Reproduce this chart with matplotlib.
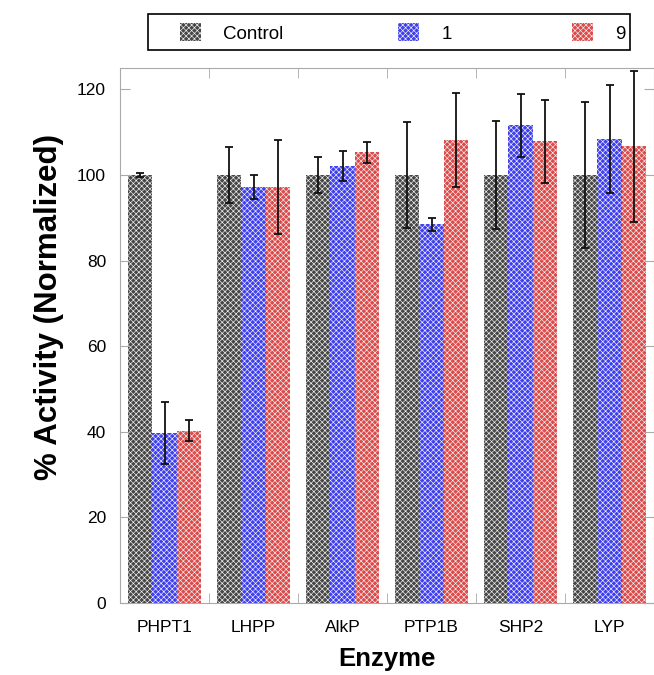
import matplotlib.pyplot as plt
import numpy as np
from matplotlib.patches import Patch, Rectangle

enzymes = ['PHPT1', 'LHPP', 'AlkP', 'PTP1B', 'SHP2', 'LYP']
series = ['Control', '1', '9']
control = [100, 100, 100, 100, 100, 100]
control_err = [0.5, 6.5, 4.2, 12.4, 12.6, 17.1]
cmpd_1 = [39.7, 97.3, 102.0, 88.5, 111.6, 108.4]
cmpd_1_err = [7.2, 2.8, 3.5, 1.5, 7.3, 12.6]
cmpd_9 = [40.3, 97.2, 105.3, 108.1, 107.9, 106.7]
cmpd_9_err = [2.5, 11.0, 2.5, 11.0, 9.7, 17.6]

faces = ['#464646', '#3f3ff0', '#dc4a4a']
hatch_col = '#f4f4f4'

plt.rcParams['font.family'] = ['Liberation Sans', 'DejaVu Sans']
plt.rcParams['hatch.linewidth'] = 0.45

fig = plt.figure(figsize=(6.54, 6.75), dpi=100)
ax = fig.add_axes([120 / 654, 72 / 675, 534 / 654, 535 / 675])

x = np.arange(len(enzymes)) + 0.5
w = 0.27
data = [(control, control_err), (cmpd_1, cmpd_1_err), (cmpd_9, cmpd_9_err)]
for i, (vals, errs) in enumerate(data):
    ax.bar(x + (i - 1) * w, vals, w, color=faces[i], edgecolor=hatch_col,
           hatch='xxxxxx', linewidth=0)
    ax.errorbar(x + (i - 1) * w, vals, yerr=errs, fmt='none', ecolor='#111111',
                elinewidth=1.3, capsize=3, capthick=1.3)

ax.set_xlim(0, 6)
ax.set_ylim(0, 125)
ax.set_yticks(range(0, 121, 20))
ax.set_xticks(x)
ax.set_xticklabels(enzymes, fontsize=12.5)
ax.set_xticks(np.arange(1, 6), minor=True)
ax.tick_params(axis='x', which='major', length=0, pad=12)
ax.tick_params(axis='x', which='minor', direction='in', length=7, top=True,
               color='#aaaaaa')
ax.tick_params(axis='y', direction='in', length=7, right=True, pad=10,
               labelsize=12.5, color='#aaaaaa')
for s in ax.spines.values():
    s.set_color('#aaaaaa')

ax.set_xlabel('Enzyme', fontsize=18.5, fontweight='bold', labelpad=9)
ax.set_ylabel('% Activity (Normalized)', fontsize=22.5, fontweight='bold')
ax.yaxis.set_label_coords(-0.104, 0.553)

# legend box drawn by hand, entries spread like the original
fig.patches.append(Rectangle((148 / 654, 1 - 50 / 675), 482 / 654, 36 / 675,
                             transform=fig.transFigure, fill=False,
                             edgecolor='black', linewidth=1.2))
handles = [Patch(facecolor=faces[i], edgecolor=hatch_col, hatch='xxxxxx',
                 linewidth=0) for i in range(3)]
leg_x = [180, 398, 572]
for i in range(3):
    fig.legend([handles[i]], [series[i]], loc='center left',
               bbox_to_anchor=(leg_x[i] / 654, 1 - 33 / 675),
               frameon=False, fontsize=13.5, handlelength=1.1, handleheight=1.1,
               handletextpad=1.2, borderpad=0, borderaxespad=0)

fig.savefig('out.png', dpi=100)
